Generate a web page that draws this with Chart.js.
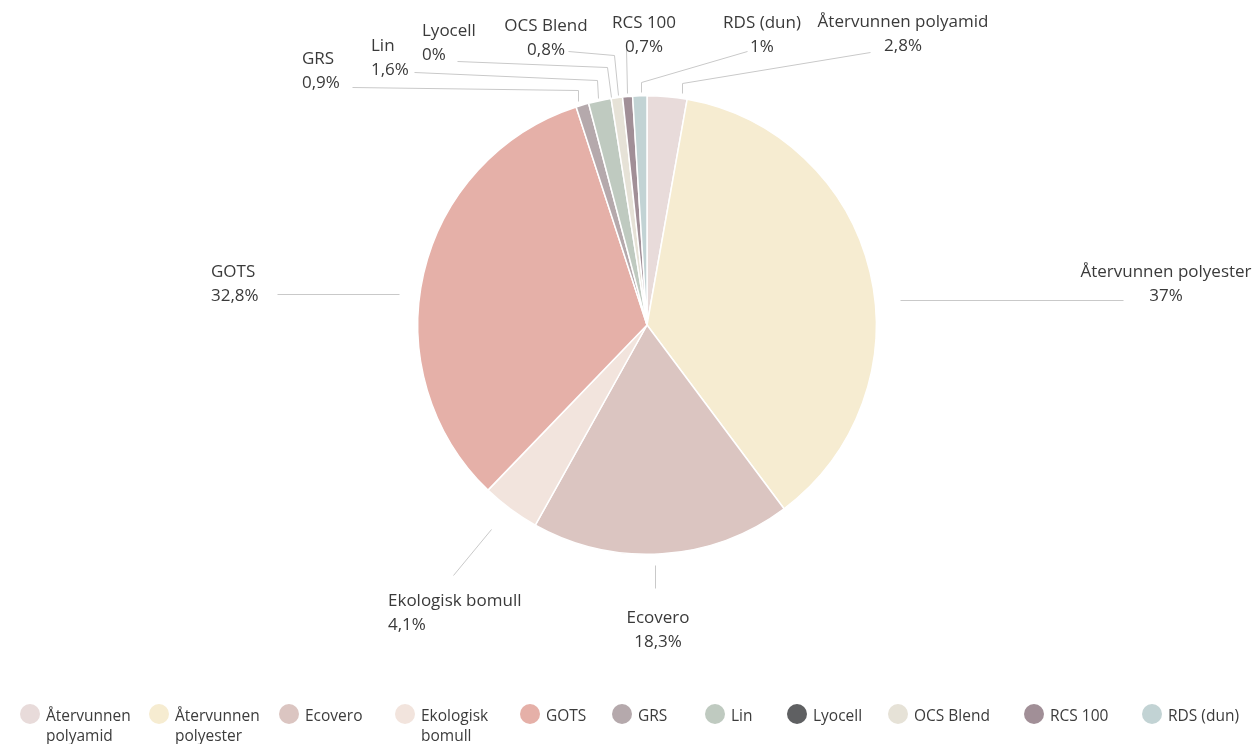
<!DOCTYPE html>
<html>
<head>
<meta charset="utf-8">
<script src="https://cdn.jsdelivr.net/npm/chart.js@4.4.1/dist/chart.umd.min.js"></script>
<style>
  html, body { margin: 0; padding: 0; background: #fff; }
  #wrap { position: relative; width: 1259px; height: 744px; overflow: hidden; }
  #legend { position: absolute; left: 0; top: 704px; width: 1259px; height: 40px; font-family: 'Open Sans', sans-serif; font-size: 15.5px; color: #3c3c3c; }
  .lg-item { position: absolute; top: 0; display: flex; align-items: flex-start; }
  .lg-dot { width: 20px; height: 20px; border-radius: 50%; margin-top: 0px; margin-right: 6px; flex: none; }
  .lg-text { line-height: 20px; margin-top: 1px; }
</style>
</head>
<body>
<div id="wrap">
  <canvas id="pie" width="1259" height="744"></canvas>
  <div id="legend"></div>
</div>
<script>
// ===== 데이터 =====
const labels = ['Återvunnen polyamid', 'Återvunnen polyester', 'Ecovero', 'Ekologisk bomull', 'GOTS', 'GRS', 'Lin', 'Lyocell', 'OCS Blend', 'RCS 100', 'RDS (dun)'];
const values = [2.8, 37, 18.3, 4.1, 32.8, 0.9, 1.6, 0, 0.8, 0.7, 1];
const colors = ['#e8dbda', '#f6ecd1', '#dbc5c1', '#f2e4dd', '#e5b0a8', '#b5a9ac', '#bfcac0', '#5f6062', '#e6e2d7', '#a18f97', '#c2d3d4'];
// legend line breaks
const legendLines = [['Återvunnen', 'polyamid'], ['Återvunnen', 'polyester'], ['Ecovero'], ['Ekologisk', 'bomull'], ['GOTS'], ['GRS'], ['Lin'], ['Lyocell'], ['OCS Blend'], ['RCS 100'], ['RDS (dun)']];

// 라벨 배치 (pie 중심 기준 offset, px)
const labelLayout = [
  { x: 256, y: -303, align: 'center', path: [[35, -232], [35, -242], [223, -273]] },
  { x: 519, y: -53, align: 'center', path: [[253, -25], [476, -25]] },
  { x: 11, y: 293, align: 'center', path: [[8, 240], [8, 263]] },
  { x: -259, y: 276, align: 'left', path: [[-156, 204], [-194, 250]] },
  { x: -436, y: -53, align: 'left', path: [[-370, -31], [-248, -31]] },
  { x: -345, y: -266, align: 'left', path: [[-69, -224], [-69, -235], [-295, -238]] },
  { x: -276, y: -279, align: 'left', path: [[-49, -227], [-50, -245], [-233, -253]] },
  { x: -225, y: -294, align: 'left', path: [[-36, -228], [-40, -258], [-190, -264]] },
  { x: -101, y: -299, align: 'center', path: [[-29, -230], [-33, -270], [-79, -274]] },
  { x: -3, y: -302, align: 'center', path: [[-20, -232], [-21, -277]] },
  { x: 115, y: -302, align: 'center', path: [[-6, -233], [-6, -243], [100, -274]] },
];

const fmt = v => String(v).replace('.', ',') + '%';

const leaderLabels = {
  id: 'leaderLabels',
  afterDraw(chart) {
    const ctx = chart.ctx;
    const arc = chart.getDatasetMeta(0).data[0];
    const cx = arc.x, cy = arc.y;
    ctx.save();
    ctx.strokeStyle = '#c9c9c9';
    ctx.lineWidth = 1;
    labelLayout.forEach((l, i) => {
      ctx.beginPath();
      l.path.forEach((p, j) => {
        const px = Math.round(cx + p[0]) + 0.5, py = Math.round(cy + p[1]) + 0.5;
        j === 0 ? ctx.moveTo(px, py) : ctx.lineTo(px, py);
      });
      ctx.stroke();
      ctx.fillStyle = '#3a3a3a';
      ctx.font = '17px "Open Sans", sans-serif';
      ctx.textBaseline = 'middle';
      ctx.textAlign = l.align;
      ctx.fillText(labels[i], cx + l.x, cy + l.y);
      ctx.fillText(fmt(values[i]), cx + l.x, cy + l.y + 24.5);
    });
    ctx.restore();
  }
};

new Chart(document.getElementById('pie'), {
  type: 'pie',
  data: {
    labels,
    datasets: [{ data: values, backgroundColor: colors, borderColor: '#ffffff', borderWidth: 1.5 }]
  },
  options: {
    responsive: false,
    animation: false,
    layout: { padding: { left: 35, right: 0, top: 95, bottom: 189 } },
    plugins: { legend: { display: false }, tooltip: { enabled: false } }
  },
  plugins: [leaderLabels]
});

// HTML 범례
const legendX = [20, 149, 279, 395, 520, 612, 705, 787, 888, 1024, 1142];
const legendEl = document.getElementById('legend');
labels.forEach((name, i) => {
  const item = document.createElement('div');
  item.className = 'lg-item';
  item.style.left = legendX[i] + 'px';
  item.innerHTML = `<span class="lg-dot" style="background:${colors[i]}"></span><span class="lg-text">${legendLines[i].join('<br>')}</span>`;
  legendEl.appendChild(item);
});
</script>
</body>
</html>
